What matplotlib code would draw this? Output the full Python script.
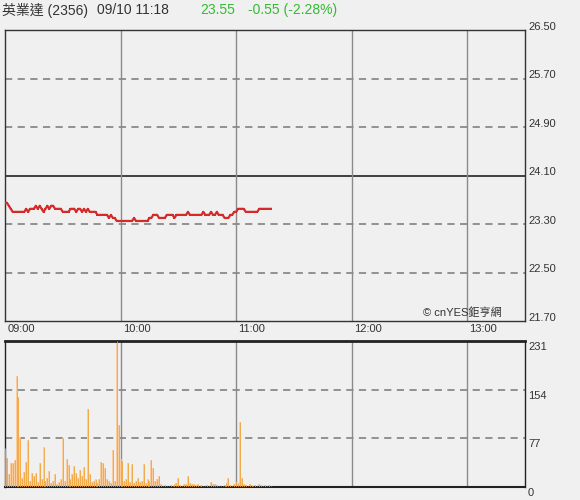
import numpy as np
import matplotlib.pyplot as plt
from matplotlib.transforms import ScaledTranslation

plt.rcParams['font.family'] = ['Liberation Sans', 'Noto Sans CJK TC', 'DejaVu Sans']

# --- data (minutes since 09:00) ---
price = [
    23.65, 23.65, 23.60, 23.55, 23.50, 23.50, 23.50, 23.50, 23.50, 23.50,   # 0-9
    23.50, 23.55, 23.50, 23.55, 23.55, 23.55, 23.60, 23.55, 23.60, 23.55,   # 10-19
    23.50, 23.55, 23.60, 23.55, 23.60, 23.60, 23.55, 23.55, 23.55, 23.55,   # 20-29
    23.50, 23.50, 23.50, 23.50, 23.55, 23.55, 23.55, 23.50, 23.55, 23.55,   # 30-39
    23.50, 23.55, 23.50, 23.55, 23.50, 23.50, 23.50, 23.50, 23.45, 23.45,   # 40-49
    23.45, 23.45, 23.45, 23.45, 23.40, 23.45, 23.40, 23.40, 23.35, 23.35,   # 50-59
    23.35, 23.35, 23.35, 23.35, 23.35, 23.35, 23.35, 23.40, 23.35, 23.35,   # 60-69
    23.35, 23.35, 23.35, 23.35, 23.35, 23.40, 23.40, 23.45, 23.45, 23.45,   # 70-79
    23.40, 23.40, 23.40, 23.40, 23.45, 23.45, 23.45, 23.45, 23.40, 23.45,   # 80-89
    23.45, 23.45, 23.45, 23.45, 23.45, 23.50, 23.45, 23.45, 23.45, 23.45,   # 90-99
    23.45, 23.45, 23.45, 23.50, 23.45, 23.45, 23.45, 23.50, 23.45, 23.45,   # 100-109
    23.50, 23.45, 23.45, 23.45, 23.40, 23.40, 23.40, 23.45, 23.45, 23.50,   # 110-119
    23.50, 23.55, 23.55, 23.55, 23.55, 23.50, 23.50, 23.50, 23.50, 23.50,   # 120-129
    23.50, 23.50, 23.55, 23.55, 23.55, 23.55, 23.55, 23.55, 23.55,          # 130-138
]
volume = [
    62, 46, 20, 38, 38, 43, 176, 142, 79, 15,      # 0-9
    24, 40, 74, 10, 22, 18, 22, 8, 38, 12,         # 10-19
    63, 10, 14, 25, 6, 10, 20, 5, 8, 12,           # 20-29
    77, 10, 45, 35, 12, 20, 33, 22, 15, 27,        # 30-39
    18, 32, 12, 123, 20, 8, 10, 12, 6, 12,         # 40-49
    40, 38, 30, 12, 10, 6, 58, 10, 231, 98,        # 50-59
    44, 41, 10, 12, 38, 8, 36, 6, 10, 15,          # 60-69
    8, 10, 36, 6, 12, 10, 42, 30, 10, 12,          # 70-79
    18, 4, 2, 3, 2, 1, 3, 2, 4, 6,                 # 80-89
    15, 3, 2, 4, 5, 18, 6, 4, 5, 3,                # 90-99
    4, 2, 3, 1, 2, 3, 2, 8, 4, 5,                  # 100-109
    3, 2, 1, 2, 3, 6, 15, 3, 2, 4,                 # 110-119
    8, 6, 103, 14, 5, 3, 2, 4, 3, 2,               # 120-129
    3, 2, 4, 3, 2, 3, 2, 3, 2,                     # 130-138
]
prev_close = 24.10
price_ticks = [21.70, 22.50, 23.30, 24.10, 24.90, 25.70, 26.50]
vol_ticks = [0, 77, 154, 231]
time_labels = ['09:00', '10:00', '11:00', '12:00', '13:00']

minutes = np.arange(len(price))
bg = '#f0f0f0'
grid_col = '#8a8a8a'
spine_col = '#333333'

fig = plt.figure(figsize=(5.8, 5.0), dpi=100, facecolor=bg)
ax = fig.add_axes([5 / 580, 1 - 321 / 500, 520 / 580, 291 / 500], facecolor=bg)
axv = fig.add_axes([5 / 580, 1 - 487 / 500, 520 / 580, 146 / 500], facecolor=bg)

# ---- price panel ----
for t in price_ticks[1:-1]:
    if t == prev_close:
        ax.axhline(t, color='#222222', lw=1.2, zorder=1)
    else:
        ax.axhline(t, color=grid_col, lw=1.3, ls=(0, (4, 3)), zorder=1)
for h in range(1, 5):
    ax.axvline(h * 60, color=grid_col, lw=1.0, zorder=1)
ax.plot(minutes, price, color='#d42a2a', lw=1.6, marker='s', ms=1.6, mew=0, zorder=3)
ax.set_xlim(0, 270)
ax.set_ylim(price_ticks[0], price_ticks[-1])
ax.set_xticks([])
ax.set_yticks([])
for s in ax.spines.values():
    s.set_color(spine_col)
    s.set_linewidth(1.0)
up3 = ax.transAxes + ScaledTranslation(0, 3 / 100, fig.dpi_scale_trans)
for t in price_ticks:
    ax.text(1.006, (t - price_ticks[0]) / (price_ticks[-1] - price_ticks[0]), f'{t:.2f}',
            transform=up3, fontsize=8, color='#333333', va='center', ha='left')
for i, lab in enumerate(time_labels):
    ax.text(i * 60 + 1.2, -0.012, lab, transform=ax.get_xaxis_transform(),
            fontsize=8, color='#333333', va='top', ha='left')
ax.text(0.803, 0.012, '© cnYES鉅亨網', transform=ax.transAxes, fontsize=8,
        color='#333333', ha='left', va='bottom', zorder=4)

# ---- volume panel ----
for t in vol_ticks[1:-1]:
    axv.axhline(t, color=grid_col, lw=1.3, ls=(0, (4, 3)), zorder=1)
for h in range(1, 5):
    axv.axvline(h * 60, color=grid_col, lw=1.0, zorder=1)
axv.bar(minutes, volume, width=1.0, color='#fbcc9c', linewidth=0, zorder=2)
axv.vlines(minutes, 0, volume, color='#f0a53c', lw=0.6, zorder=3)
axv.set_xlim(0, 270)
axv.set_ylim(0, vol_ticks[-1])
axv.set_xticks([])
axv.set_yticks([])
for s in axv.spines.values():
    s.set_color('#222222')
    s.set_linewidth(1.0)
axv.spines['top'].set_linewidth(2.0)
axv.spines['bottom'].set_linewidth(1.5)
down6 = axv.transAxes + ScaledTranslation(0, -6 / 100, fig.dpi_scale_trans)
for t in vol_ticks:
    axv.text(1.006, t / vol_ticks[-1], str(t), transform=down6,
             fontsize=8, color='#333333', va='center', ha='left')

# ---- header ----
fig.text(2 / 580, 1 - 10 / 500, '英業達 (2356)', fontsize=10, color='#333333', va='center')
fig.text(97 / 580, 1 - 10 / 500, '09/10 11:18', fontsize=10, color='#333333', va='center')
fig.text(200 / 580, 1 - 10 / 500, '23.55', fontsize=10, color='#33bb33', va='center')
fig.text(248 / 580, 1 - 10 / 500, '-0.55 (-2.28%)', fontsize=10, color='#33bb33', va='center')

fig.savefig('out.png', dpi=100, facecolor=bg)
